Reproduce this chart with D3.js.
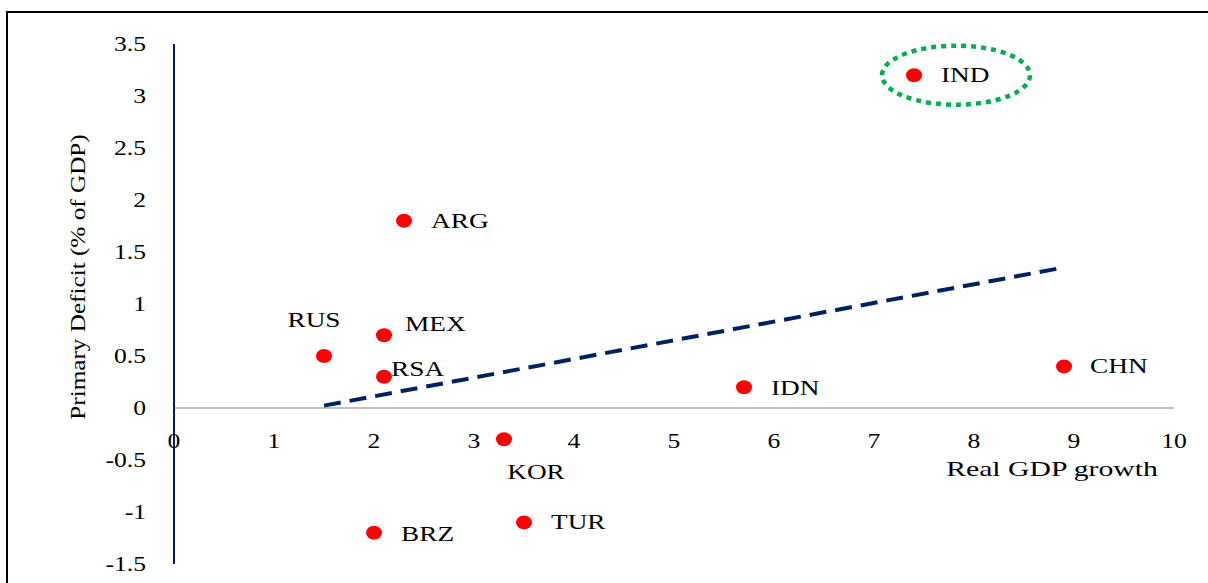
<!DOCTYPE html>
<html><head><meta charset="utf-8">
<script src="https://cdn.jsdelivr.net/npm/d3@7"></script>
<style>html,body{margin:0;padding:0;background:#fff;}svg{display:block;}</style>
</head><body>
<svg id="chart" width="1208" height="583"></svg>
<script>
const countries = ["IND","ARG","RUS","MEX","RSA","IDN","CHN","KOR","TUR","BRZ"];
const gdpGrowth = [7.4, 2.3, 1.5, 2.1, 2.1, 5.7, 8.9, 3.3, 3.5, 2.0];
const primaryDeficit = [3.2, 1.8, 0.5, 0.7, 0.3, 0.2, 0.4, -0.3, -1.1, -1.2];
const xTicks = [0,1,2,3,4,5,6,7,8,9,10];
const yTicks = [-1.5,-1,-0.5,0,0.5,1,1.5,2,2.5,3,3.5];
const xTitle = "Real GDP growth";
const yTitle = "Primary Deficit (% of GDP)";
// label placement (layout, px offsets from marker)
const labelDx = [27, 27, -10, 21, 7, 27, 26, 32, 27, 27];
const labelDy = [7, 7, -29, -4, -1, 8, 7, 40, 7, 8];
const labelAnchor = ["start","start","middle","start","start","start","start","middle","start","start"];

const svg = d3.select("#chart");
const font = "'Liberation Serif', 'Times New Roman', serif";
const x = d3.scaleLinear().domain([0,10]).range([174,1174]);
const y = d3.scaleLinear().domain([-1.5,3.5]).range([564,44]);

function sText(sel, sx) {
  // draws text with a horizontal stretch to mimic a wide Garamond face
  return sel.attr("transform", d => `translate(${d.px},${d.py}) scale(${sx},1)`)
    .attr("x",0).attr("y",0);
}

// frame
svg.append("rect").attr("x",7).attr("y",12).attr("width",1400).attr("height",800)
  .attr("fill","none").attr("stroke","#000").attr("stroke-width",2);

// x axis (gray) at y=0
svg.append("line").attr("x1",x(0)).attr("x2",x(10)).attr("y1",y(0)).attr("y2",y(0))
  .attr("stroke","#c0c0c0").attr("stroke-width",2);
// y axis (navy)
svg.append("line").attr("x1",x(0)).attr("x2",x(0)).attr("y1",y(3.5)).attr("y2",y(-1.5))
  .attr("stroke","#002060").attr("stroke-width",2);

// tick labels
sText(svg.append("g").selectAll("text").data(xTicks.map(v=>({v, px:x(v), py:y(0)+40}))).join("text")
  .attr("text-anchor","middle").attr("font-family",font).attr("font-size",21).attr("fill","#000")
  .text(d=>d.v), 1.22);
sText(svg.append("g").selectAll("text").data(yTicks.map(v=>({v, px:146, py:y(v)+7}))).join("text")
  .attr("text-anchor","end").attr("font-family",font).attr("font-size",21).attr("fill","#000")
  .text(d=>d.v), 1.22);

// titles
svg.append("text").attr("transform",`translate(85,277) rotate(-90) scale(1.2,1)`)
  .attr("text-anchor","middle").attr("font-family",font).attr("font-size",21).text(yTitle);
svg.append("text").attr("transform","translate(1052,476) scale(1.35,1)").attr("text-anchor","middle")
  .attr("font-family",font).attr("font-size",22).text(xTitle);

// linear trend line
const n = gdpGrowth.length;
const mx = d3.mean(gdpGrowth), my = d3.mean(primaryDeficit);
let sxy=0, sxx=0;
for (let i=0;i<n;i++){ sxy += (gdpGrowth[i]-mx)*(primaryDeficit[i]-my); sxx += (gdpGrowth[i]-mx)**2; }
const slope = sxy/sxx, icpt = my - slope*mx;
const [x0,x1] = d3.extent(gdpGrowth);
svg.append("line").attr("x1",x(x0)).attr("y1",y(icpt+slope*x0))
  .attr("x2",x(x1)).attr("y2",y(icpt+slope*x1))
  .attr("stroke","#002060").attr("stroke-width",4).attr("stroke-dasharray","17,9");

// points
const data = countries.map((c,i)=>({c, gx:gdpGrowth[i], pd:primaryDeficit[i], i}));
svg.append("g").selectAll("ellipse").data(data).join("ellipse")
  .attr("cx",d=>x(d.gx)).attr("cy",d=>y(d.pd)).attr("rx",8).attr("ry",7).attr("fill","#ff0000");
sText(svg.append("g").selectAll("text")
  .data(data.map(d=>({...d, px:x(d.gx)+labelDx[d.i], py:y(d.pd)+labelDy[d.i]}))).join("text")
  .attr("text-anchor",d=>labelAnchor[d.i])
  .attr("font-family",font).attr("font-size",21).attr("fill","#000").text(d=>d.c), 1.3);

// highlight ellipse around IND
const ind = data[0];
svg.append("ellipse").attr("cx",x(ind.gx)+42).attr("cy",y(ind.pd)).attr("rx",74).attr("ry",29.5)
  .attr("fill","none").attr("stroke","#00b050").attr("stroke-width",4.5).attr("stroke-dasharray","5,5");
</script>
</body></html>
